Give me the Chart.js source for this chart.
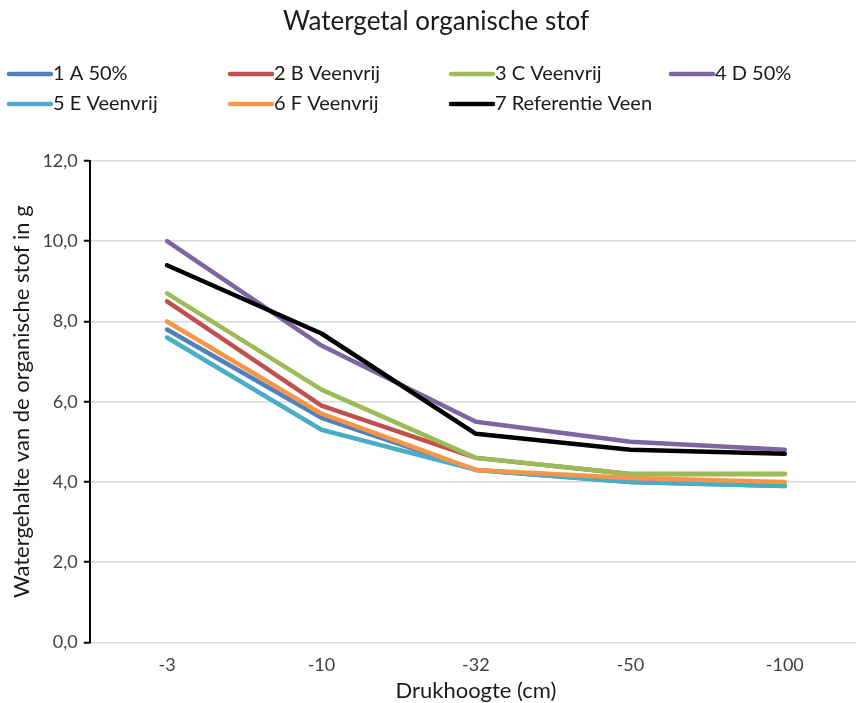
<!DOCTYPE html>
<html>
<head>
<meta charset="utf-8">
<script src="https://cdn.jsdelivr.net/npm/chart.js@4/dist/chart.umd.min.js"></script>
<style>
  html, body { margin: 0; padding: 0; background: #fff; overflow: hidden; }
  #wrap { position: relative; width: 862px; height: 703px; }
</style>
</head>
<body>
<div id="wrap"><canvas id="c"></canvas></div>
<script>
// Drukhoogte categories (cm)
const categories = ['-3', '-10', '-32', '-50', '-100'];

// Watergehalte per monster (g)
const serie1A = [7.8, 5.6, 4.3, 4.0, 3.9];
const serie2B = [8.5, 5.9, 4.6, 4.2, 4.2];
const serie3C = [8.7, 6.3, 4.6, 4.2, 4.2];
const serie4D = [10.0, 7.4, 5.5, 5.0, 4.8];
const serie5E = [7.6, 5.3, 4.3, 4.0, 3.9];
const serie6F = [8.0, 5.7, 4.3, 4.1, 4.0];
const serie7Ref = [9.4, 7.7, 5.2, 4.8, 4.7];

const seriesNames = ['1 A 50%', '2 B Veenvrij', '3 C Veenvrij', '4 D 50%', '5 E Veenvrij', '6 F Veenvrij', '7 Referentie Veen'];
const seriesValues = [serie1A, serie2B, serie3C, serie4D, serie5E, serie6F, serie7Ref];
const seriesColors = ['#4F81BD', '#C0504D', '#9BBB59', '#8064A2', '#4BACC6', '#F79646', '#000000'];

const yTicks = [0, 2, 4, 6, 8, 10, 12];

const FONT = 'Lato, "Liberation Sans", sans-serif';

// Chart title, x-axis title and a four-column legend drawn onto the canvas
const headerPlugin = {
  id: 'header',
  afterDraw(chart) {
    const ctx = chart.ctx;
    const area = chart.chartArea;
    ctx.save();
    ctx.fillStyle = '#1a1a1a';
    ctx.font = '26px ' + FONT;
    ctx.textAlign = 'center';
    ctx.textBaseline = 'middle';
    ctx.fillText('Watergetal organische stof', 436, 22);

    ctx.font = '22px ' + FONT;
    ctx.fillText('Drukhoogte (cm)', (area.left + area.right) / 2, area.bottom + 49);

    ctx.font = '20px ' + FONT;
    ctx.textAlign = 'left';
    const colX = [9, 230, 451, 671];
    const rowY = [74, 104];
    chart.data.datasets.forEach((ds, i) => {
      const x = colX[i % 4];
      const y = rowY[Math.floor(i / 4)];
      ctx.strokeStyle = ds.borderColor;
      ctx.lineWidth = 4.5;
      ctx.lineCap = 'round';
      ctx.beginPath();
      ctx.moveTo(x, y);
      ctx.lineTo(x + 42, y);
      ctx.stroke();
      ctx.fillStyle = '#1a1a1a';
      ctx.fillText(ds.label, x + 44, y);
    });
    ctx.restore();
  }
};

// Later series sit on top of earlier ones
const datasets = seriesNames.map((name, i) => ({
  label: name,
  data: seriesValues[i],
  order: seriesNames.length - i,
  borderColor: seriesColors[i],
  backgroundColor: seriesColors[i],
  borderWidth: 4.5,
  pointRadius: 0,
  pointHoverRadius: 0,
  tension: 0,
  borderJoinStyle: 'round',
  borderCapStyle: 'round',
  fill: false
}));

new Chart(document.getElementById('c'), {
  type: 'line',
  data: { labels: categories, datasets },
  plugins: [headerPlugin],
  options: {
    responsive: true,
    maintainAspectRatio: false,
    animation: false,
    events: [],
    layout: { padding: { top: 161, left: 9, right: 0, bottom: 15 } },
    plugins: {
      legend: { display: false },
      title: { display: false },
      tooltip: { enabled: false }
    },
    scales: {
      x: {
        offset: true,
        grid: { display: false, drawTicks: false },
        border: { display: false },
        ticks: {
          color: '#404040',
          font: { family: FONT, size: 18 },
          padding: 12,
          maxRotation: 0
        },
        title: { display: false }
      },
      y: {
        min: 0,
        max: 12,
        afterBuildTicks(scale) {
          scale.ticks = yTicks.map(v => ({ value: v }));
        },
        grid: {
          color: '#d9d9d9',
          lineWidth: 1.5,
          tickColor: '#000000',
          tickLength: 6,
          tickWidth: 2
        },
        border: { display: true, color: '#000000', width: 2 },
        ticks: {
          color: '#404040',
          font: { family: FONT, size: 18 },
          padding: 6,
          callback: v => v.toFixed(1).replace('.', ',')
        },
        title: {
          display: true,
          text: 'Watergehalte van de organische stof in g',
          color: '#1a1a1a',
          font: { family: FONT, size: 22 },
          padding: { top: 0, bottom: 1 }
        }
      }
    }
  }
});
</script>
</body>
</html>
